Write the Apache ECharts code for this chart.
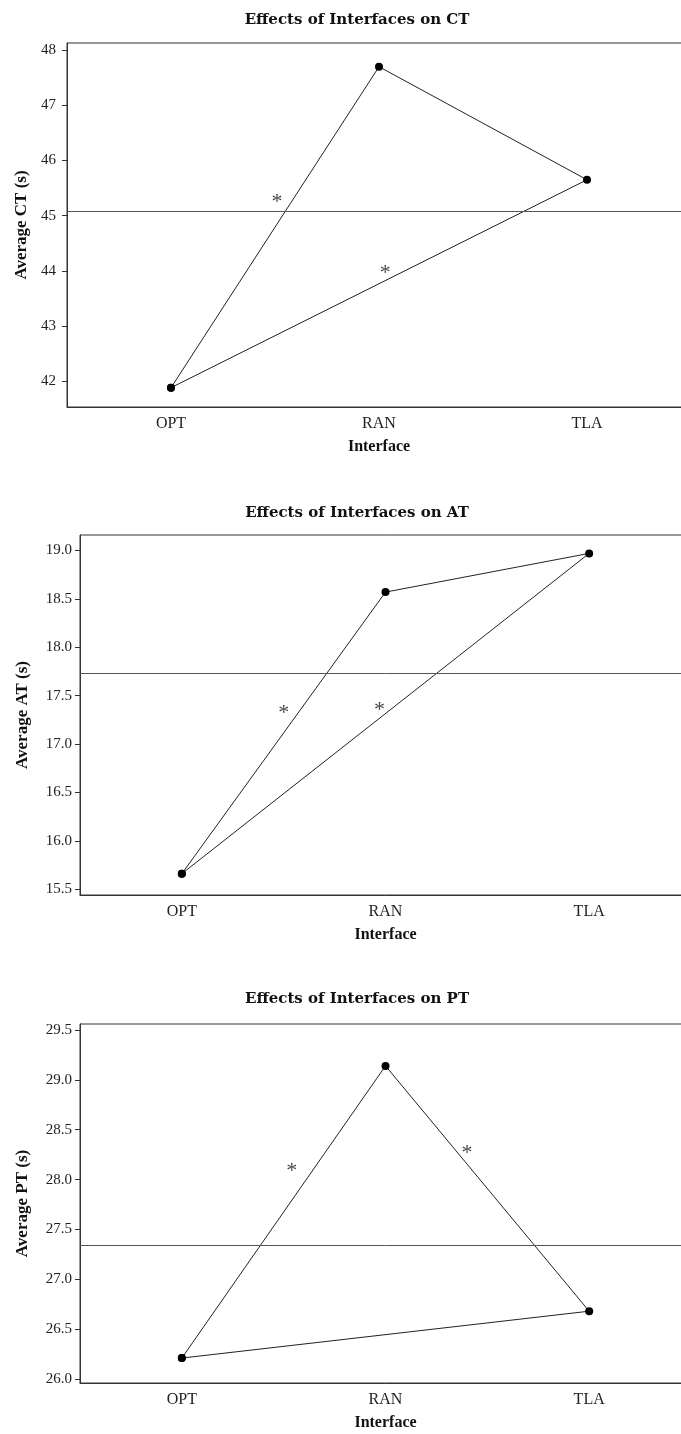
<!DOCTYPE html>
<html><head><meta charset="utf-8">
<script src="https://cdn.jsdelivr.net/npm/echarts@6/dist/echarts.min.js"></script>
<style>html,body{margin:0;padding:0;background:#fff;overflow:hidden}#c{width:700px;height:1434px}</style>
</head><body><div id="c"></div>
<script>
const categories = ['OPT', 'RAN', 'TLA'];
const ctValues = [41.88, 47.70, 45.65];
const atValues = [15.66, 18.57, 18.97];
const ptValues = [26.21, 29.14, 26.68];
const ctMean = 45.08;
const atMean = 17.73;
const ptMean = 27.34;
const ctTicks = [42, 43, 44, 45, 46, 47, 48];
const atTicks = [15.5, 16.0, 16.5, 17.0, 17.5, 18.0, 18.5, 19.0];
const ptTicks = [26.0, 26.5, 27.0, 27.5, 28.0, 28.5, 29.0, 29.5];
// significance markers: [category position, value]
const ctStars = [[0.51, 45.33], [1.03, 44.04]];
const atStars = [[0.50, 17.37], [0.97, 17.40]];
const ptStars = [[0.54, 28.13], [1.40, 28.31]];
const titles = ['Effects of Interfaces on CT', 'Effects of Interfaces on AT', 'Effects of Interfaces on PT'];
const yNames = ['Average CT (s)', 'Average AT (s)', 'Average PT (s)'];
const xName = 'Interface';

const FONT = '"Liberation Serif", "DejaVu Serif", serif';
const TFONT = '"DejaVu Serif", "Liberation Serif", serif';
const panels = [
  { vals: ctValues, mean: ctMean, ticks: ctTicks, stars: ctStars, dec: 0,
    grid: { left: 67, top: 43, width: 624, height: 364 }, min: 41.53, max: 48.13, titleY: 20, nameGap: 36, labMargin: 11 },
  { vals: atValues, mean: atMean, ticks: atTicks, stars: atStars, dec: 1,
    grid: { left: 80, top: 535, width: 611, height: 360 }, min: 15.44, max: 19.16, titleY: 513, nameGap: 49, labMargin: 8 },
  { vals: ptValues, mean: ptMean, ticks: ptTicks, stars: ptStars, dec: 1,
    grid: { left: 80, top: 1024, width: 611, height: 359 }, min: 25.96, max: 29.56, titleY: 999, nameGap: 49, labMargin: 8 }
];

const grids = [], xAxes = [], yAxes = [], series = [], graphics = [];
panels.forEach((p, i) => {
  grids.push(Object.assign({ show: true, borderColor: '#333', borderWidth: 1, containLabel: false }, p.grid));
  xAxes.push({
    type: 'category', gridIndex: i, data: categories, boundaryGap: true,
    name: xName, nameLocation: 'middle', nameGap: 32,
    nameTextStyle: { fontFamily: FONT, fontWeight: 'bold', fontSize: 16, color: '#111' },
    axisLine: { onZero: false, lineStyle: { color: '#333', width: 1 } },
    axisTick: { alignWithLabel: true, length: 5, lineStyle: { color: '#333' } },
    axisLabel: { fontFamily: FONT, fontSize: 16, color: '#222', margin: 9 },
    splitLine: { show: false }
  });
  xAxes.push({ type: 'value', gridIndex: i, min: -0.5, max: 2.5, show: false });
  yAxes.push({
    type: 'value', gridIndex: i, min: p.min, max: p.max,
    name: yNames[i], nameLocation: 'middle', nameGap: p.nameGap, nameRotate: 90,
    nameTextStyle: { fontFamily: FONT, fontWeight: 'bold', fontSize: 17, color: '#111' },
    axisLine: { show: true, onZero: false, lineStyle: { color: '#333', width: 1 } },
    axisTick: { show: true, length: 5, lineStyle: { color: '#333' }, customValues: p.ticks },
    axisLabel: { fontFamily: FONT, fontSize: 15, color: '#222', margin: p.labMargin, customValues: p.ticks,
      formatter: v => Number(v).toFixed(p.dec) },
    splitLine: { show: false }
  });
  series.push({
    type: 'line', xAxisIndex: 2 * i, yAxisIndex: i,
    data: [[categories[0], p.vals[0]], [categories[1], p.vals[1]], [categories[2], p.vals[2]], [categories[0], p.vals[0]]],
    symbol: 'circle', symbolSize: 8,
    itemStyle: { color: '#000' }, lineStyle: { color: '#222', width: 1 },
    animation: false,
    markLine: { silent: true, symbol: 'none', label: { show: false },
      lineStyle: { color: '#555', width: 1, type: 'solid' },
      data: [{ yAxis: p.mean }] }
  });
  series.push({
    type: 'scatter', xAxisIndex: 2 * i + 1, yAxisIndex: i,
    data: p.stars, symbolSize: 0, animation: false,
    label: { show: true, formatter: '*', position: 'inside', fontFamily: FONT, fontSize: 22, color: '#111', offset: [0, 5] }
  });
  graphics.push({
    type: 'text', x: 357, y: p.titleY,
    style: { text: titles[i], font: 'bold 15px ' + TFONT, fill: '#111', align: 'center', verticalAlign: 'middle' }
  });
});

const chart = echarts.init(document.getElementById('c'), null, { renderer: 'canvas' });
chart.setOption({
  animation: false,
  backgroundColor: '#fff',
  grid: grids, xAxis: xAxes, yAxis: yAxes, series: series, graphic: graphics
});
</script></body></html>
